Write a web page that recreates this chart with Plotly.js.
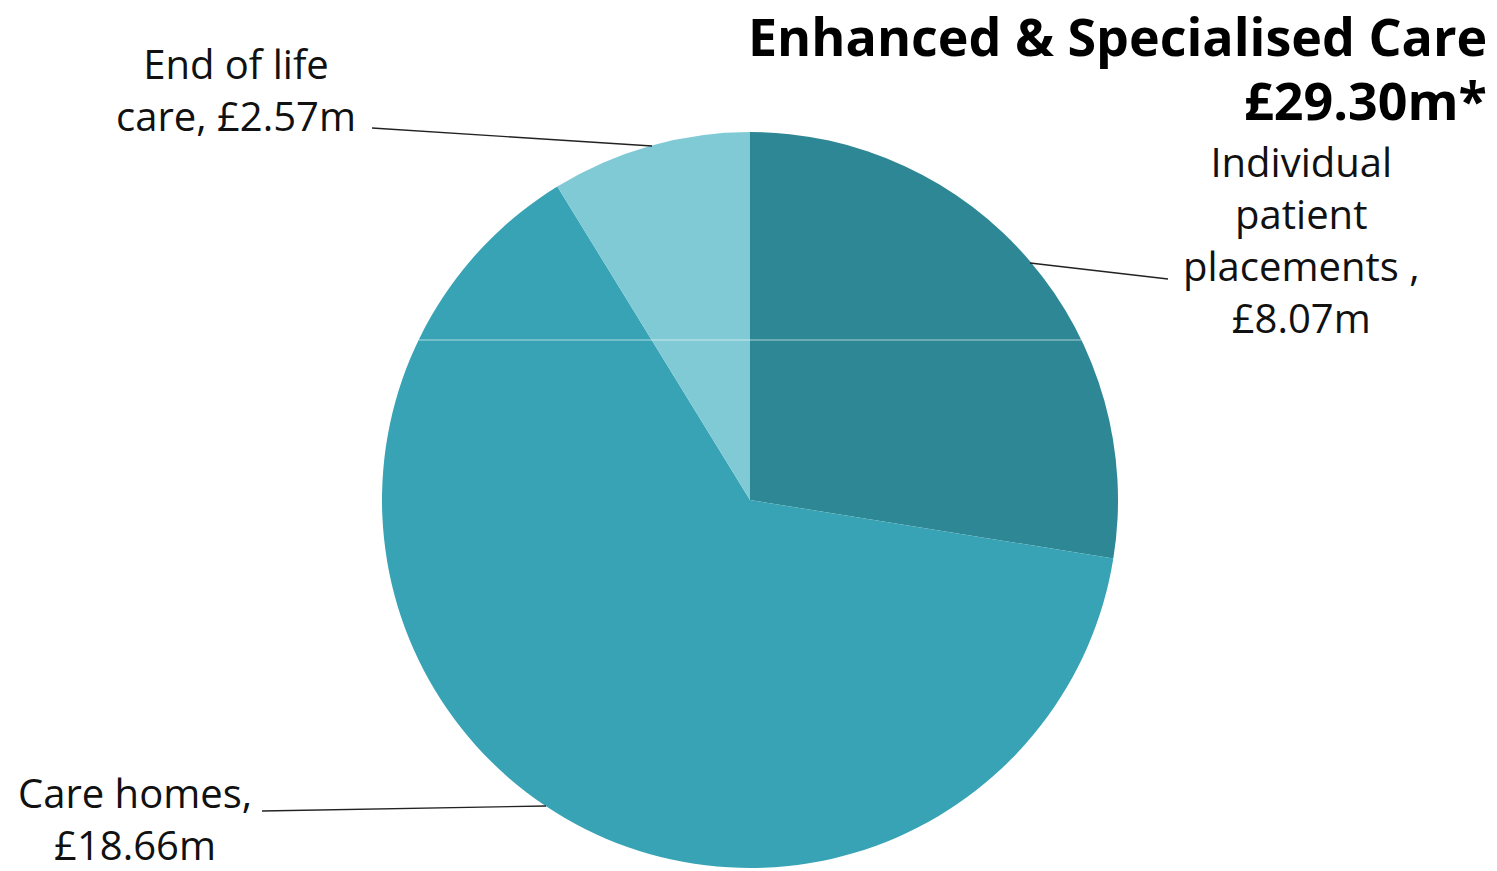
<!DOCTYPE html>
<html>
<head>
<meta charset="utf-8">
<script src="https://cdn.plot.ly/plotly-3.0.1.min.js"></script>
<style>html,body{margin:0;padding:0;background:#fff;}#chart{width:1497px;height:871px;}</style>
</head>
<body>
<div id="chart"></div>
<script>
// Data
const categories = ["Individual patient placements", "Care homes", "End of life care"];
const values = [8.07, 18.66, 2.57];
const colors = ["#2E8795", "#38A3B5", "#80CAD6"];
const titleLines = ["Enhanced & Specialised Care", "£29.30m*"];
const labelLines = [
  ["Individual", "patient", "placements ,", "£8.07m"],
  ["Care homes,", "£18.66m"],
  ["End of life", "care, £2.57m"]
];

const W = 1497, H = 871;
const px = x => x / W;
const py = y => 1 - y / H;

const trace = {
  type: "pie",
  labels: categories,
  values: values,
  marker: {colors: colors, line: {width: 0}},
  sort: false,
  direction: "clockwise",
  rotation: 0,
  textinfo: "none",
  hoverinfo: "label+value",
  showlegend: false,
  domain: {x: [px(750 - 368), px(750 + 368)], y: [py(500 + 368), py(500 - 368)]}
};

const labelFont = {family: "Open Sans", size: 40, color: "#111"};
const titleFont = {family: "Open Sans", size: 52, color: "#000"};
const annotations = [];
// title
annotations.push({xref: "paper", yref: "paper", x: px(1489), y: py(36), xanchor: "right", yanchor: "middle",
  text: "<b>" + titleLines[0] + "</b>", showarrow: false, font: titleFont});
annotations.push({xref: "paper", yref: "paper", x: px(1489), y: py(100), xanchor: "right", yanchor: "middle",
  text: "<b>" + titleLines[1] + "</b>", showarrow: false, font: titleFont});
// labels: centre x and block centre y
const labelPos = [
  {cx: 1301, cy: 240},
  {cx: 135, cy: 818},
  {cx: 236, cy: 89}
];
labelLines.forEach((lines, i) => {
  annotations.push({xref: "paper", yref: "paper", x: px(labelPos[i].cx), y: py(labelPos[i].cy),
    xanchor: "center", yanchor: "middle", align: "center", text: lines.join("<br>"), showarrow: false, font: labelFont});
});

const lineStyle = {color: "#222", width: 1.3};
const shapes = [
  {type: "line", xref: "paper", yref: "paper", x0: px(372), y0: py(128), x1: px(652), y1: py(146), line: lineStyle},
  {type: "line", xref: "paper", yref: "paper", x0: px(1030), y0: py(263), x1: px(1168), y1: py(279), line: lineStyle},
  {type: "line", xref: "paper", yref: "paper", x0: px(262), y0: py(811), x1: px(546), y1: py(806), line: lineStyle},
  {type: "line", xref: "paper", yref: "paper", x0: px(419), y0: py(340), x1: px(1081), y1: py(340), layer: "above",
    line: {color: "rgba(255,255,255,0.6)", width: 1}}
];

const layout = {
  width: W, height: H,
  margin: {l: 0, r: 0, t: 0, b: 0},
  paper_bgcolor: "#fff",
  plot_bgcolor: "#fff",
  annotations: annotations,
  shapes: shapes,
  showlegend: false
};

Plotly.newPlot("chart", [trace], layout, {displayModeBar: false, staticPlot: true});
</script>
</body>
</html>
